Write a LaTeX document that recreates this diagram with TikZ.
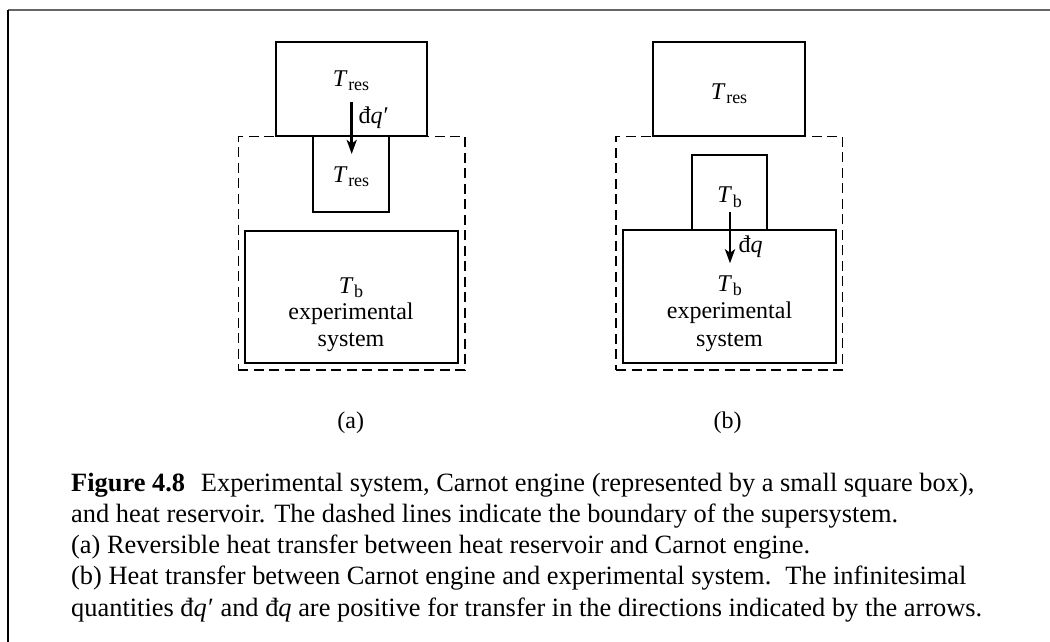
\documentclass[tikz,border=0pt]{standalone}
\usepackage{fontspec}
\setmainfont{Liberation Serif}
\usetikzlibrary{arrows.meta}
\newcommand{\subr}[1]{\raisebox{-0.18em}{\fontsize{18}{18}\selectfont #1}}
\newcommand{\Tsym}[1]{\textit{T}\kern0.03em\subr{#1}}
\tikzset{
  bx/.style={draw, line width=2.1pt, inner sep=0pt, outer sep=0pt, fill=white},
  dbx/.style={draw, line width=1.3pt, dash pattern=on 10pt off 5.5pt, inner sep=0pt, outer sep=0pt},
  lbl/.style={inner sep=0pt, anchor=base, font=\fontsize{24}{26.5}\selectfont},
  captext/.style={inner sep=0pt, anchor=base west, font=\fontsize{26.4}{31.3}\selectfont},
  arr/.style={line width=2.6pt, -{Stealth[length=14pt,width=10pt,inset=3.5pt]}}
}
\begin{document}
\begin{tikzpicture}[x=1pt,y=-1pt]
\useasboundingbox (0,0) rectangle (1050,642);
% frame
\draw[line width=1.5pt, black!60] (8,10) -- (1050,10);
\draw[line width=1.2pt, black] (8,10) -- (8,642);
% panel (a)
\node[dbx, minimum width=226.7pt, minimum height=233.5pt] (dashA) at (351.65,253.25) {};
\node[bx, minimum width=151pt, minimum height=94.3pt] (resA) at (351.2,88.85) {};
\node[bx, minimum width=76pt, minimum height=75.7pt] (engA) at (351.3,173.85) {};
\node[bx, minimum width=212.7pt, minimum height=132pt] (sysA) at (351.35,296.7) {};
\node[lbl] (tresA) at (351,86) {\Tsym{res}};
\node[lbl] (tengA) at (351,182) {\Tsym{res}};
\node[lbl] (tbA) at (351,293) {\Tsym{b}};
\node[lbl] (expA) at (351,319) {experimental};
\node[lbl] (sysAt) at (351,346) {system};
\coordinate (aS) at (351.7,101.7);
\coordinate (aE) at (351.7,154);
\draw[arr] (aS) -- (aE);
\node[lbl, anchor=base west] (dqA) at (358.3,124) {đ\textit{q}\kern0.05em′};
\node[lbl] (labA) at (350.7,428) {(a)};
% panel (b)
\node[dbx, minimum width=226.3pt, minimum height=233.5pt] (dashB) at (729.15,253.25) {};
\node[bx, minimum width=151.7pt, minimum height=94.3pt] (resB) at (729.15,88.85) {};
\node[bx, minimum width=212.4pt, minimum height=132.7pt] (sysB) at (729.5,296.35) {};
\node[bx, minimum width=75.6pt, minimum height=75pt] (engB) at (729.5,192.5) {};
\node[lbl] (tresB) at (729,99.3) {\Tsym{res}};
\node[lbl] (tengB) at (729.5,202.7) {\Tsym{b}};
\node[lbl] (tbB) at (729.5,291) {\Tsym{b}};
\node[lbl] (expB) at (729.5,318) {experimental};
\node[lbl] (sysBt) at (729.5,346) {system};
\coordinate (bS) at (730,211.7);
\coordinate (bE) at (730,263.3);
\draw[arr] (bS) -- (bE);
\node[lbl, anchor=base west] (dqB) at (738.3,252.7) {đ\textit{q}};
\node[lbl] (labB) at (727.7,428) {(b)};
% caption
\node[captext] (c1) at (71,491) {\textbf{Figure 4.8}\hspace{0.6em}Experimental system, Carnot engine (represented by a small square box),};
\node[captext] (c2) at (71,522.3) {and heat reservoir. The dashed lines indicate the boundary of the supersystem.};
\node[captext] (c3) at (71,553.6) {(a) Reversible heat transfer between heat reservoir and Carnot engine.};
\node[captext] (c4) at (71,584.9) {(b) Heat transfer between Carnot engine and experimental system.\hspace{0.2em} The infinitesimal};
\node[captext] (c5) at (71,616.2) {quantities đ\textit{q}\kern0.05em′ and đ\textit{q} are positive for transfer in the directions indicated by the arrows.};
\end{tikzpicture}
\end{document}
